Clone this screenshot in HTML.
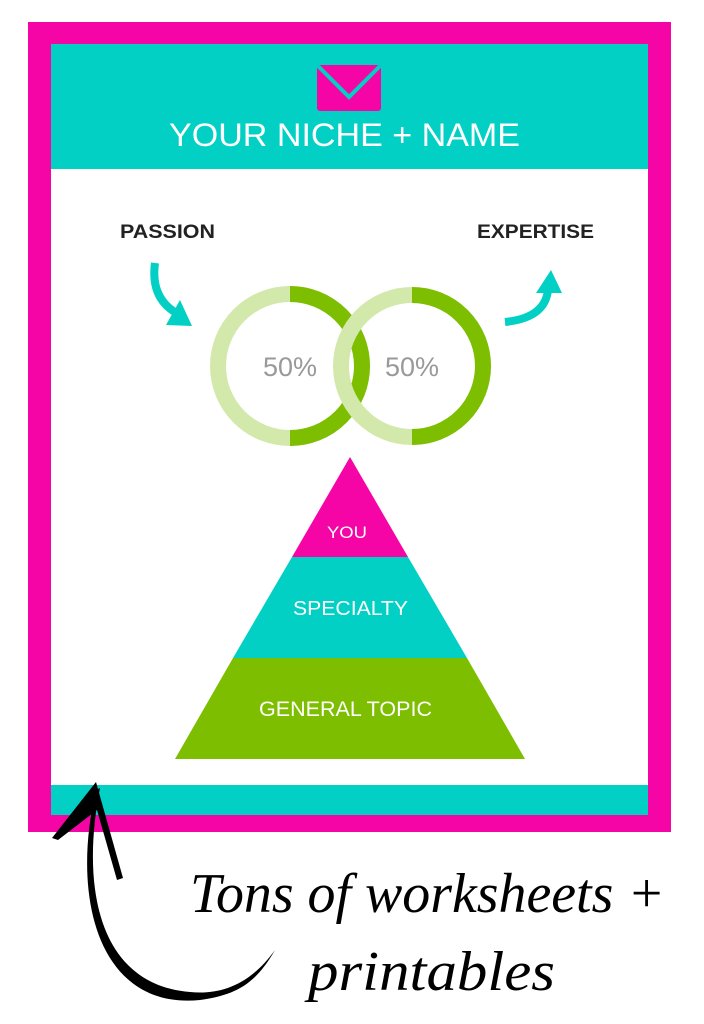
<!DOCTYPE html>
<html><head><meta charset="utf-8"><style>
html,body{margin:0;padding:0;background:#fff;width:704px;height:1024px;overflow:hidden}
</style></head><body>
<svg width="704" height="1024" viewBox="0 0 704 1024" xmlns="http://www.w3.org/2000/svg" font-family="Liberation Sans, sans-serif">
<rect x="28" y="22" width="643" height="810" fill="#f505a6"/>
<rect x="51" y="44" width="597" height="771" fill="#fff"/>
<rect x="51" y="44" width="597" height="125" fill="#02d0c5"/>
<rect x="51" y="785" width="597" height="30" fill="#02d0c5"/>
<!-- envelope -->
<rect x="317" y="65" width="64" height="46" rx="3" fill="#f505a6"/>
<polyline points="318,66 349,97 380,66" fill="none" stroke="#02d0c5" stroke-width="4"/>
<text x="169" y="146" fill="#fff" font-size="32" textLength="351" lengthAdjust="spacingAndGlyphs">YOUR NICHE + NAME</text>
<text x="120" y="238" fill="#222" font-size="19" font-weight="bold" textLength="95" lengthAdjust="spacingAndGlyphs">PASSION</text>
<text x="477" y="238" fill="#222" font-size="19" font-weight="bold" textLength="117" lengthAdjust="spacingAndGlyphs">EXPERTISE</text>
<!-- arrows -->
<path d="M155,263 Q150,300 180,315" fill="none" stroke="#02d0c5" stroke-width="8"/>
<polygon points="166,325 192,326 180,300" fill="#02d0c5"/>
<path d="M505,322 Q545,318 548,290" fill="none" stroke="#02d0c5" stroke-width="8"/>
<polygon points="536,293 562,293 551,270" fill="#02d0c5"/>
<!-- circles -->
<circle cx="290" cy="366" r="72" fill="none" stroke="#d3e9ab" stroke-width="16"/>
<path d="M290,294 A72,72 0 0 1 290,438" fill="none" stroke="#7dbe00" stroke-width="16"/>
<circle cx="412" cy="366" r="71" fill="none" stroke="#d3e9ab" stroke-width="16"/>
<path d="M412,295 A71,71 0 0 1 412,437" fill="none" stroke="#7dbe00" stroke-width="16"/>
<text x="290" y="376" text-anchor="middle" fill="#999" font-size="27">50%</text>
<text x="412" y="376" text-anchor="middle" fill="#999" font-size="27">50%</text>
<!-- pyramid -->
<polygon points="350,457 408,557 292,557" fill="#f505a6"/>
<polygon points="292,557 408,557 467,658 233,658" fill="#02d0c5"/>
<polygon points="233,658 467,658 525,759 175,759" fill="#7dbe00"/>
<text x="327" y="538" fill="#fff" font-size="17" textLength="40" lengthAdjust="spacingAndGlyphs">YOU</text>
<text x="293" y="615" fill="#fff" font-size="20" textLength="115" lengthAdjust="spacingAndGlyphs">SPECIALTY</text>
<text x="259" y="716" fill="#fff" font-size="21" textLength="173" lengthAdjust="spacingAndGlyphs">GENERAL TOPIC</text>
<!-- black arrow -->
<path d="M96,790 C70,900 100,1010 200,1000 C235,995 255,985 275,950 C250,985 220,995 190,992 C100,985 80,890 100,788 Z" fill="#000"/>
<polygon points="52,838 96,782 123,878 117,880 97,810 58,840" fill="#000"/>
<text x="190" y="912" fill="#000" font-size="56" font-style="italic" font-family="Liberation Serif, serif" textLength="475" lengthAdjust="spacingAndGlyphs">Tons of worksheets +</text>
<text x="308" y="990" fill="#000" font-size="56" font-style="italic" font-family="Liberation Serif, serif" textLength="247" lengthAdjust="spacingAndGlyphs">printables</text>
</svg>
</body></html>
